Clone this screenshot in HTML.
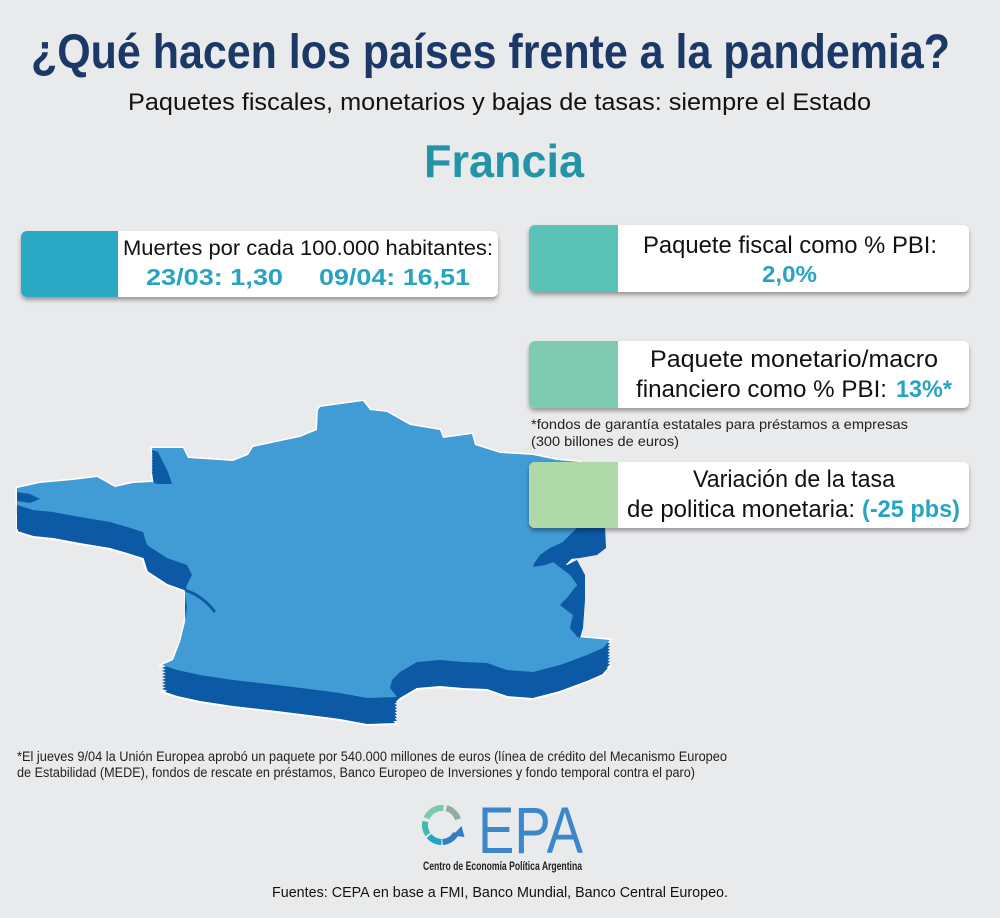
<!DOCTYPE html>
<html>
<head>
<meta charset="utf-8">
<style>
html,body{margin:0;padding:0;background:#e9eaec;}
body{width:1000px;height:918px;overflow:hidden;}
svg{display:block;}
text{font-family:"Liberation Sans",sans-serif;}
</style>
</head>
<body>
<svg width="1000" height="918" viewBox="0 0 1000 918" xmlns="http://www.w3.org/2000/svg">
<defs>
  <filter id="sh" x="-5%" y="-20%" width="110%" height="150%">
    <feDropShadow dx="0" dy="3" stdDeviation="2.2" flood-color="#000" flood-opacity="0.35"/>
  </filter>
  <clipPath id="c1"><rect x="21" y="231" width="477" height="66" rx="6"/></clipPath>
  <clipPath id="c2"><rect x="529" y="225" width="440" height="67" rx="6"/></clipPath>
  <clipPath id="c3"><rect x="529" y="341" width="440" height="67" rx="6"/></clipPath>
  <clipPath id="c4"><rect x="529" y="462" width="440" height="66" rx="6"/></clipPath>
  <polygon id="fr" points="17,488 40,483 73,480 97,477 115,487 133,483 152,482 157,484 152,448 183,448 188,458 233,461 248,455 253,447 300,437 317,430 318,410 320,407 363,401 370,410 387,412 410,425 440,430 443,438 472,434 475,445 500,453 533,455 557,460 580,462 592,495 577,528 563,542 550,548 540,555 533,565 553,562 567,565 570,575 577,585 567,598 560,605 573,615 570,628 577,637 610,640 603,648 587,655 560,665 533,672 507,670 487,663 463,662 440,660 417,662 400,672 392,680 390,688 397,697 367,698 340,693 317,690 277,685 233,680 200,675 177,670 162,665 173,660 180,642 185,622 187,608 185,592 187,585 192,575 187,565 167,558 147,545 143,532 127,527 110,522 80,517 53,512 33,510 17,505"/>
</defs>

<!-- Title block -->
<text x="31" y="68" font-size="48" font-weight="bold" fill="#1b3866" textLength="919" lengthAdjust="spacingAndGlyphs">¿Qué hacen los países frente a la pandemia?</text>
<text x="128" y="110" font-size="24" fill="#111" textLength="743" lengthAdjust="spacingAndGlyphs">Paquetes fiscales, monetarios y bajas de tasas: siempre el Estado</text>
<text x="424" y="177" font-size="46" font-weight="bold" fill="#2394a5" textLength="160" lengthAdjust="spacingAndGlyphs">Francia</text>

<!-- Map -->
<g>
  <use href="#fr" fill="#ffffff" stroke="#ffffff" stroke-width="3"/>
  <use href="#fr" transform="translate(0,27)" fill="#0c59a5" stroke="#ffffff" stroke-width="2"/>
  <use href="#fr" transform="translate(0,24)" fill="#0c59a5"/>
  <use href="#fr" transform="translate(0,21)" fill="#0c59a5"/>
  <use href="#fr" transform="translate(0,18)" fill="#0c59a5"/>
  <use href="#fr" transform="translate(0,15)" fill="#0c59a5"/>
  <use href="#fr" transform="translate(0,12)" fill="#0c59a5"/>
  <use href="#fr" transform="translate(0,9)" fill="#0c59a5"/>
  <use href="#fr" transform="translate(0,6)" fill="#0c59a5"/>
  <use href="#fr" transform="translate(0,3)" fill="#0c59a5"/>
  <use href="#fr" fill="#419cd6"/>
  <polygon points="577,528 605,526 606,548 597,555 580,558 560,560 545,565 533,567 540,555 563,542" fill="#0c59a5"/>
  <polygon points="553,562 567,565 577,560 585,575 585,600 583,628 580,638 577,637 570,628 573,615 560,605 567,598 577,585 570,575" fill="#0c59a5"/>
  <polygon points="152,450 158,452 163,462 168,472 172,484 157,484" fill="#0c59a5"/>
  <polygon points="17,492 30,494 40,499 30,503 17,501" fill="#0c59a5"/>
  <path d="M185,590 Q203,596 215,612" stroke="#0c59a5" stroke-width="3" fill="none"/>
</g>

<!-- Box 1 -->
<rect x="21" y="231" width="477" height="66" rx="6" fill="#fff" filter="url(#sh)"/>
<rect x="21" y="231" width="97" height="66" fill="#2aa8c4" clip-path="url(#c1)"/>
<text x="123" y="255" font-size="21" fill="#111" textLength="370" lengthAdjust="spacingAndGlyphs">Muertes por cada 100.000 habitantes:</text>
<text x="146" y="285" font-size="23" font-weight="bold" fill="#27a3c3" textLength="137" lengthAdjust="spacingAndGlyphs">23/03: 1,30</text>
<text x="319" y="285" font-size="23" font-weight="bold" fill="#27a3c3" textLength="151" lengthAdjust="spacingAndGlyphs">09/04: 16,51</text>

<!-- Box 2 -->
<rect x="529" y="225" width="440" height="67" rx="6" fill="#fff" filter="url(#sh)"/>
<rect x="529" y="225" width="89" height="67" fill="#5bc2b8" clip-path="url(#c2)"/>
<text x="643" y="253" font-size="24" fill="#111" textLength="294" lengthAdjust="spacingAndGlyphs">Paquete fiscal como % PBI:</text>
<text x="762" y="282" font-size="23" font-weight="bold" fill="#27a3c3" textLength="55" lengthAdjust="spacingAndGlyphs">2,0%</text>

<!-- Box 3 -->
<rect x="529" y="341" width="440" height="67" rx="6" fill="#fff" filter="url(#sh)"/>
<rect x="529" y="341" width="89" height="67" fill="#7ecbb2" clip-path="url(#c3)"/>
<text x="650" y="367" font-size="24" fill="#111" textLength="288" lengthAdjust="spacingAndGlyphs">Paquete monetario/macro</text>
<text x="636" y="397" font-size="24" fill="#111" textLength="251" lengthAdjust="spacingAndGlyphs">financiero como % PBI:</text>
<text x="896" y="397" font-size="24" font-weight="bold" fill="#27a3c3" textLength="56" lengthAdjust="spacingAndGlyphs">13%*</text>

<text x="531" y="429" font-size="14" fill="#222" textLength="377" lengthAdjust="spacingAndGlyphs">*fondos de garantía estatales para préstamos a empresas</text>
<text x="531" y="446" font-size="14" fill="#222" textLength="148" lengthAdjust="spacingAndGlyphs">(300 billones de euros)</text>

<!-- Box 4 -->
<rect x="529" y="462" width="440" height="66" rx="6" fill="#fff" filter="url(#sh)"/>
<rect x="529" y="462" width="89" height="66" fill="#b0d9a9" clip-path="url(#c4)"/>
<text x="693" y="487" font-size="24" fill="#111" textLength="202" lengthAdjust="spacingAndGlyphs">Variación de la tasa</text>
<text x="627" y="517" font-size="24" fill="#111" textLength="228" lengthAdjust="spacingAndGlyphs">de politica monetaria:</text>
<text x="862" y="517" font-size="24" font-weight="bold" fill="#27a3c3" textLength="98" lengthAdjust="spacingAndGlyphs">(-25 pbs)</text>

<!-- Bottom footnote -->
<text x="17" y="761" font-size="13.5" fill="#222" textLength="710" lengthAdjust="spacingAndGlyphs">*El jueves 9/04 la Unión Europea aprobó un paquete por 540.000 millones de euros (línea de crédito del Mecanismo Europeo</text>
<text x="17" y="777" font-size="13.5" fill="#222" textLength="678" lengthAdjust="spacingAndGlyphs">de Estabilidad (MEDE), fondos de rescate en préstamos, Banco Europeo de Inversiones y fondo temporal contra el paro)</text>

<!-- CEPA logo -->
<g fill="none" stroke-width="6">
  <path d="M446.4,808.2 A17,17 0 0 1 458.0,819.2" stroke="#8fae9e"/>
  <path d="M426.5,818.1 A17,17 0 0 1 443.5,808.1" stroke="#7ccaa9"/>
  <path d="M427.9,834.5 A17,17 0 0 1 425.3,821.5" stroke="#44b8b2"/>
  <path d="M441.4,842.0 A17,17 0 0 1 429.0,836.0" stroke="#25a3c6"/>
  <path d="M456.0,833.5 A17,17 0 0 1 442.6,842.0" stroke="#2e7fc4"/>
</g>
<polygon points="461.5,826 464.5,837 452.5,835.5" fill="#2e7fc4"/>
<text x="478" y="853" font-size="66" fill="#3b87c9" textLength="105" lengthAdjust="spacingAndGlyphs">EPA</text>
<text x="423" y="870" font-size="12" font-weight="bold" fill="#222" textLength="159" lengthAdjust="spacingAndGlyphs">Centro de Economía Política Argentina</text>

<!-- Sources -->
<text x="272" y="897" font-size="15" fill="#111" textLength="456" lengthAdjust="spacingAndGlyphs">Fuentes: CEPA en base a FMI, Banco Mundial, Banco Central Europeo.</text>
</svg>
</body>
</html>
